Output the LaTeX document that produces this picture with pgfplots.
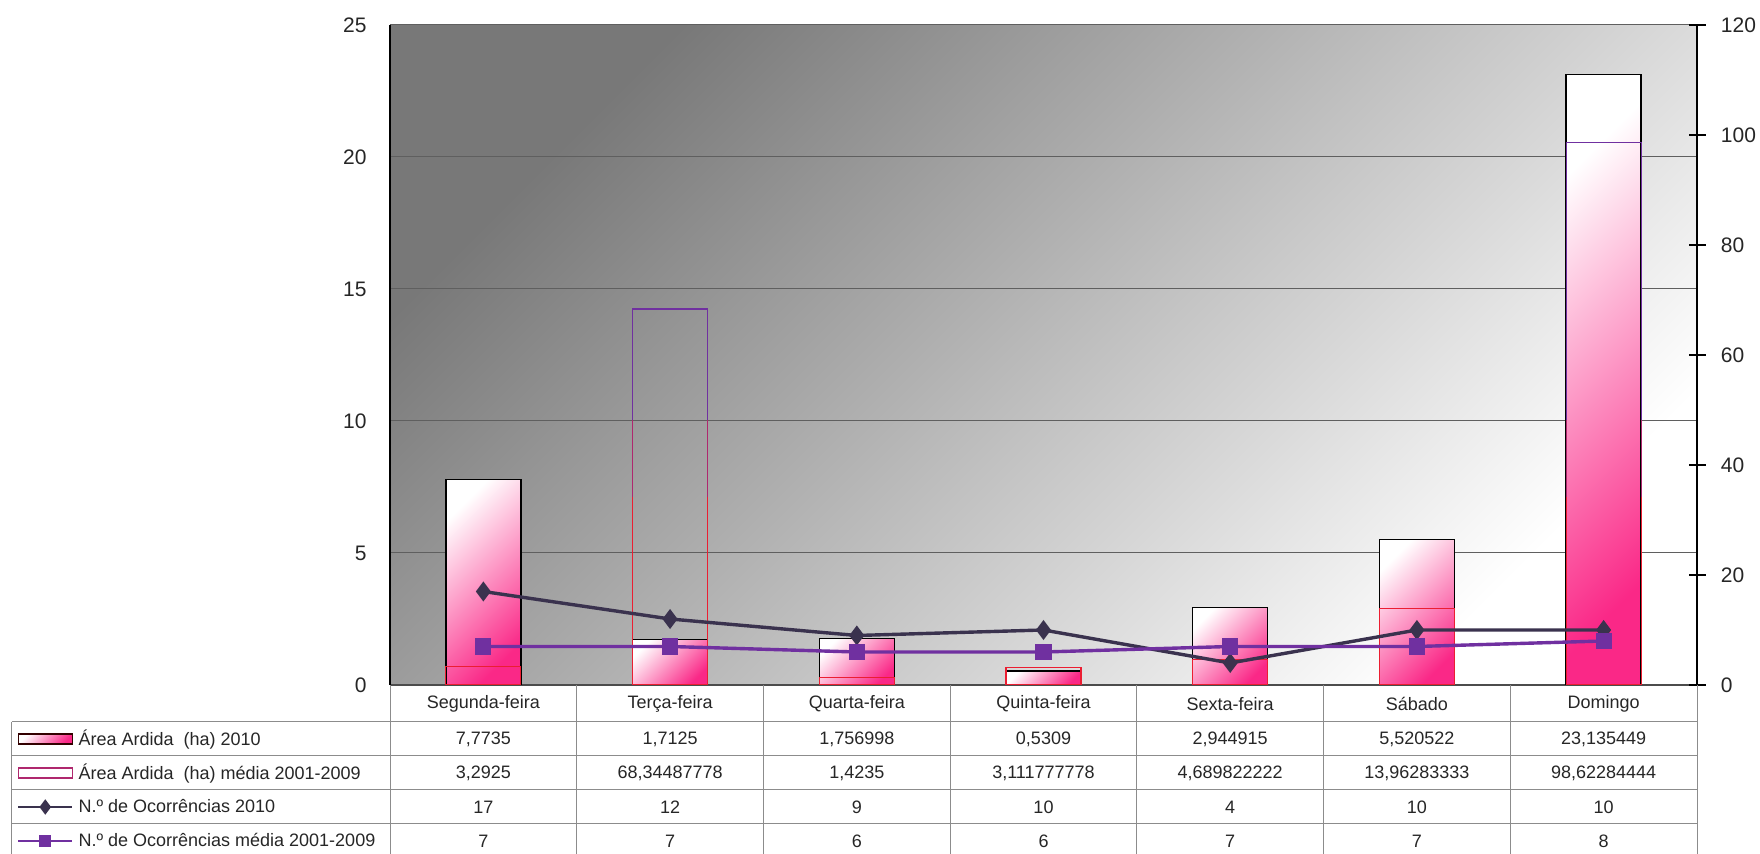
\documentclass[border=0pt]{standalone}
\usepackage{pgfplots}
\pgfplotsset{compat=1.18}
\usepackage{fontspec}
\setmainfont{Liberation Sans}
\definecolor{hotpink}{RGB}{250,40,135}
\definecolor{dk}{RGB}{58,50,78}
\definecolor{pur}{RGB}{112,48,160}
\definecolor{rd}{RGB}{235,30,50}
\definecolor{mix}{RGB}{175,40,110}
\definecolor{gridc}{RGB}{95,95,95}
\definecolor{tabc}{RGB}{140,140,140}
\definecolor{bgdark}{RGB}{120,120,120}
\pgfplotsset{
  base/.style={
    scale only axis, width=653.5pt, height=330pt,
    at={(0pt,0pt)}, anchor=south west,
    xmin=-0.5, xmax=6.5, xtick=\empty,
    /pgf/number format/assume math mode=true,
    ticklabel style={font=\fontsize{10.5}{12}\selectfont, text=black!85},
  },
  bar2010/.style={ybar, bar width=37.5pt, bar shift=0pt, draw=black, line width=0.7pt,
    top color=white, bottom color=hotpink, shading angle=45},
  mediabar/.style={ybar, bar width=37.5pt, bar shift=0pt, fill=none, line width=0.6pt},
  dklegend/.style={legend image code/.code={\draw[dk, line width=1.3pt, mark=diamond*, mark size=2.8pt, mark options={solid, fill=dk}, mark repeat=2, mark phase=2] plot coordinates {(0pt,0pt) (13.5pt,0pt) (27pt,0pt)};}},
  purlegend/.style={legend image code/.code={\draw[pur, line width=1.3pt, mark=square*, mark size=2.4pt, mark options={solid, fill=pur}, mark repeat=2, mark phase=2] plot coordinates {(0pt,0pt) (13.5pt,0pt) (27pt,0pt)};}},
  barlegend/.style={legend image code/.code={\draw[draw=black!80!red, line width=0.7pt, top color=white, bottom color=hotpink, shading angle=45] (0pt,-2.5pt) rectangle (27pt,2.5pt);}},
  medialegend/.style={legend image code/.code={\draw[draw=mix, line width=0.6pt, fill=white] (0pt,-2.5pt) rectangle (27pt,2.5pt);}},
}
\newcommand{\mediadata}{(0,3.2925) (1,68.34487778) (2,1.4235) (3,3.111777778) (4,4.689822222) (5,13.96283333) (6,98.62284444)}
\begin{document}
\begin{tikzpicture}
\useasboundingbox (-195pt,-84.5pt) rectangle (685pt,342.5pt);
% left axis with 2010 bars
\begin{axis}[base,
  ymin=0, ymax=25, ytick={0,5,...,25},
  axis y line*=left, axis x line*=bottom,
  major tick length=0pt,
  y axis line style={black, line width=1pt},
  x axis line style={black!70, line width=0.6pt},
  yticklabel style={anchor=east, inner sep=0pt, xshift=-11.5pt},
  ymajorgrids, grid style={gridc, line width=0.5pt},
  axis background/.style={shade, top color=bgdark, bottom color=white, shading angle=45},
]
\addplot[bar2010] coordinates {(0,7.7735)};
\addplot[bar2010] coordinates {(1,1.7125)};
\addplot[bar2010] coordinates {(2,1.756998)};
\addplot[bar2010] coordinates {(3,0.5309)};
\addplot[bar2010] coordinates {(4,2.944915)};
\addplot[bar2010] coordinates {(5,5.520522)};
\addplot[bar2010] coordinates {(6,23.135449)};
\end{axis}
% média bars: purple outline
\begin{axis}[base, ymin=0, ymax=120, hide axis]
\addplot[mediabar, draw=pur] coordinates {\mediadata};
\end{axis}
% lower part of outline: mixed
\begin{axis}[base, height=132pt, ymin=0, ymax=48, hide axis]
\addplot[mediabar, draw=mix] coordinates {\mediadata};
\end{axis}
% lowest part: red
\begin{axis}[base, height=93.5pt, ymin=0, ymax=34, hide axis]
\addplot[mediabar, draw=rd] coordinates {\mediadata};
\end{axis}
% right axis with lines
\begin{axis}[base,
  ymin=0, ymax=120, ytick={0,20,...,120},
  axis y line*=right, axis x line=none,
  tick align=center, major tick length=8.5pt,
  y axis line style={black, line width=0.8pt},
  ytick style={black, line width=0.8pt},
  yticklabel style={anchor=west, inner sep=0pt, xshift=7.5pt},
  legend cell align=left,
  legend style={at={(-0.28539,-0.05606)}, anchor=north west, draw=none, fill=none,
    inner sep=0pt, outer sep=0pt, row sep=0pt,
    nodes={inner sep=0pt, minimum height=17pt, font=\fontsize{9}{10}\selectfont, text=black!85},
    /tikz/every odd column/.append style={column sep=2.5pt}},
]
\addlegendimage{barlegend}
\addlegendentry{Área Ardida\ \ (ha) 2010}
\addlegendimage{medialegend}
\addlegendentry{Área Ardida\ \ (ha) média 2001-2009}
\addplot[dk, line width=1.7pt, mark=diamond*, mark size=3.6pt, mark options={solid, fill=dk}, dklegend]
  coordinates {(0,17) (1,12) (2,9) (3,10) (4,4) (5,10) (6,10)};
\addlegendentry{N.º de Ocorrências 2010}
\addplot[pur, line width=1.7pt, mark=square*, mark size=3.2pt, mark options={solid, fill=pur}, purlegend]
  coordinates {(0,7) (1,7) (2,6) (3,6) (4,7) (5,7) (6,8)};
\addlegendentry{N.º de Ocorrências média 2001-2009}
\end{axis}
% data table
\begin{scope}[tabc, line width=0.5pt]
  \foreach \i in {0,...,7} \draw ({\i*93.357pt},0pt) -- ({\i*93.357pt},-86.5pt);
  \foreach \y in {-18.5,-35.5,-52.5,-69.5,-86.5} \draw (-189pt,\y pt) -- (653.5pt,\y pt);
  \draw (-189pt,-18.5pt) -- (-189pt,-86.5pt);
\end{scope}
\begin{scope}[every node/.style={font=\fontsize{9}{10}\selectfont, text=black!85, inner sep=0pt}]
  \foreach \t [count=\i from 0] in {Segunda-feira,Terça-feira,Quarta-feira,Quinta-feira,Sexta-feira,Sábado,Domingo}
    \node at ({(\i+0.5)*93.357pt},-9.5pt) {\t};
  \foreach \t [count=\i from 0] in {{7,7735},{1,7125},{1,756998},{0,5309},{2,944915},{5,520522},{23,135449}}
    \node at ({(\i+0.5)*93.357pt},-27pt) {\t};
  \foreach \t [count=\i from 0] in {{3,2925},{68,34487778},{1,4235},{3,111777778},{4,689822222},{13,96283333},{98,62284444}}
    \node at ({(\i+0.5)*93.357pt},-44pt) {\t};
  \foreach \t [count=\i from 0] in {17,12,9,10,4,10,10}
    \node at ({(\i+0.5)*93.357pt},-61pt) {\t};
  \foreach \t [count=\i from 0] in {7,7,6,6,7,7,8}
    \node at ({(\i+0.5)*93.357pt},-78pt) {\t};
\end{scope}
\end{tikzpicture}
\end{document}
